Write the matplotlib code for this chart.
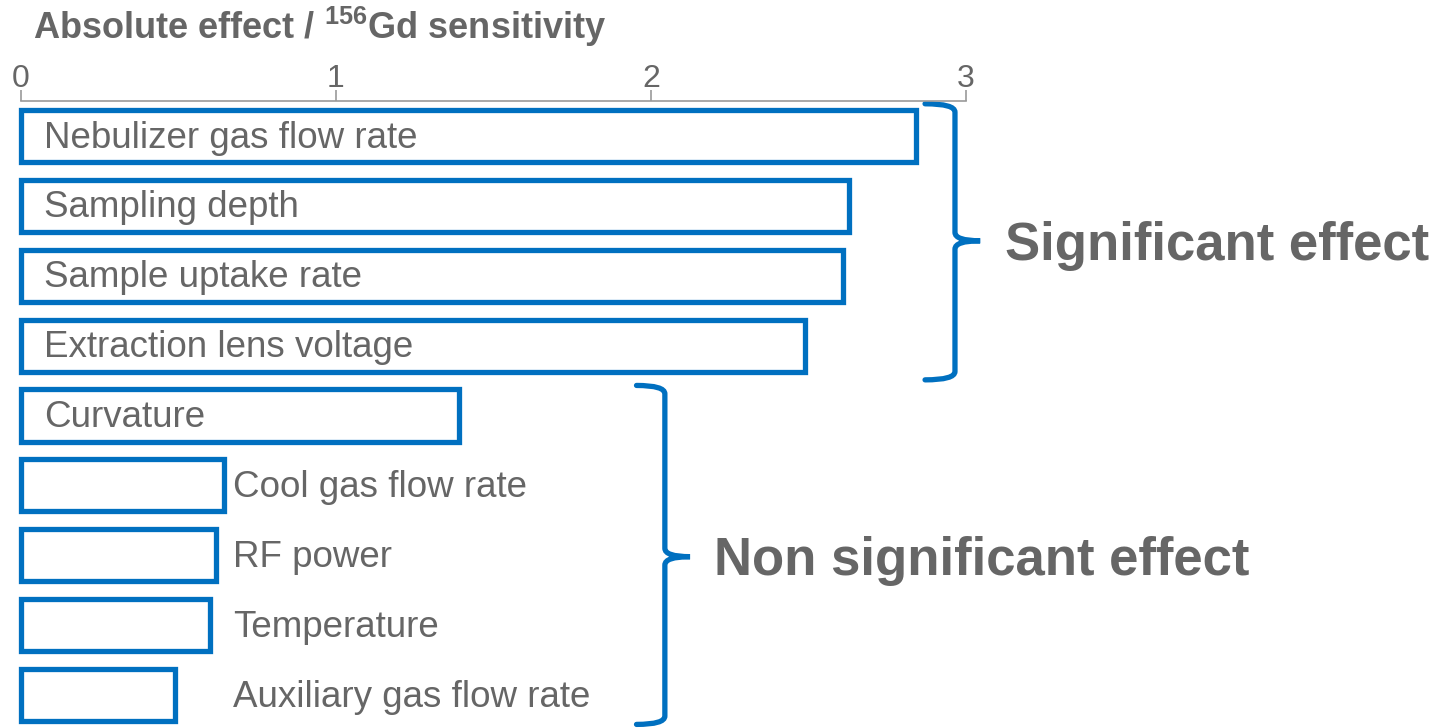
import matplotlib
matplotlib.use("Agg")
import matplotlib.pyplot as plt
from matplotlib.path import Path
from matplotlib.patches import PathPatch

plt.rcParams['font.family'] = ['Liberation Sans', 'DejaVu Sans']
plt.rcParams['mathtext.fontset'] = 'custom'
plt.rcParams['mathtext.rm'] = 'Liberation Sans'
plt.rcParams['mathtext.bf'] = 'Liberation Sans:bold'

# data
factors = ["Nebulizer gas flow rate", "Sampling depth", "Sample uptake rate",
           "Extraction lens voltage", "Curvature", "Cool gas flow rate",
           "RF power", "Temperature", "Auxiliary gas flow rate"]
effects = [2.84, 2.63, 2.61, 2.49, 1.39, 0.645, 0.62, 0.60, 0.49]
label_inside = [True, True, True, True, True, False, False, False, False]
xticks = [0, 1, 2, 3]

blue = "#0070C0"
grey = "#666666"

fig = plt.figure(figsize=(14.39, 7.28), dpi=100)
ax = fig.add_axes([21 / 1439, -2 / 728, 945 / 1439, 629 / 728])

ypos = list(range(len(factors)))
ax.barh(ypos, effects, height=0.745, color="white", edgecolor=blue,
        linewidth=3.8, left=0, clip_on=False)

for y, name, inside in zip(ypos, factors, label_inside):
    x = 0.073 if inside else 0.673
    ax.text(x, y + 0.03, name, fontsize=26.5, color=grey, va="center", ha="left")

ax.set_xlim(0, 3)
ax.set_ylim(8.5, -0.5)
ax.xaxis.tick_top()
ax.set_xticks(xticks)
ax.tick_params(axis="x", direction="out", length=8, width=1.2, color="#999999",
               labelsize=23, labelcolor=grey, pad=-3)
ax.set_yticks([])
for s in ["bottom", "left", "right"]:
    ax.spines[s].set_visible(False)
ax.spines["top"].set_color("#999999")
ax.spines["top"].set_linewidth(1.2)


def brace(ax, x, y0, y1, end_w, tip_w, ymid):
    r = 0.12
    verts = [(x - end_w, y0), (x, y0), (x, y0 + r),
             (x, ymid - r), (x, ymid), (x + tip_w, ymid),
             (x, ymid), (x, ymid + r),
             (x, y1 - r), (x, y1), (x - end_w, y1)]
    codes = [Path.MOVETO, Path.CURVE3, Path.CURVE3,
             Path.LINETO, Path.CURVE3, Path.CURVE3,
             Path.CURVE3, Path.CURVE3,
             Path.LINETO, Path.CURVE3, Path.CURVE3]
    ax.add_patch(PathPatch(Path(verts, codes), fill=False, edgecolor=blue,
                           linewidth=3.8, clip_on=False, capstyle="round"))


brace(ax, 2.965, -0.46, 3.49, 0.095, 0.08, 1.50)
brace(ax, 2.044, 3.57, 8.42, 0.09, 0.08, 6.02)

ax.text(3.125, 1.58, "Significant effect", fontsize=38, fontweight="bold",
        color=grey, va="center", ha="left", clip_on=False)
ax.text(2.2, 6.08, "Non significant effect", fontsize=38, fontweight="bold",
        color=grey, va="center", ha="left", clip_on=False)

fig.text(33 / 1439, 1 - 27 / 728,
         r"Absolute effect / $^{\mathbf{156}}$Gd sensitivity",
         fontsize=26, fontweight="bold", color=grey, va="center", ha="left")

fig.savefig("out.png", dpi=100)
